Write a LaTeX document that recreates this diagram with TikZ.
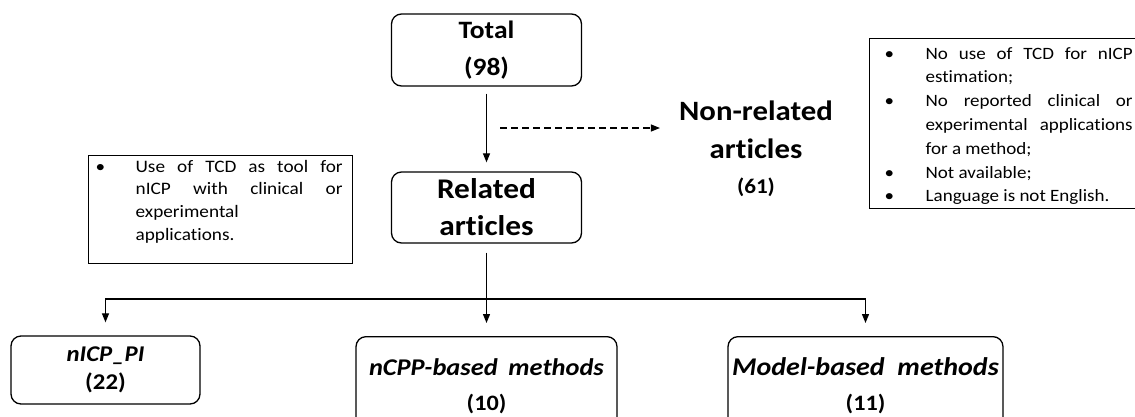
\documentclass[tikz,border=0pt]{standalone}
\usepackage{fontspec}
\setmainfont{Carlito}[FakeStretch=1.1, Ligatures=NoCommon]
\usetikzlibrary{arrows.meta}
\newcommand{\bitem}[2]{\par\noindent\hangindent=#1\hangafter=1\makebox[#1][l]{\textbullet}#2}
\tikzset{
  box/.style={draw, rounded corners=10pt, line width=1.3pt, inner sep=0pt, align=center},
  critbox/.style={draw, line width=1.3pt, inner sep=0pt},
  tip/.style={-{Triangle[length=9pt,width=7pt]}},
  conn/.style={line width=1.2pt},
}
\begin{document}
\begin{tikzpicture}[x=1pt,y=-1pt]
\useasboundingbox (0,0) rectangle (1135,416);
\clip (0,0) rectangle (1135,416);

% main boxes
\node[box, minimum width=190pt, minimum height=72pt,
      font=\bfseries\fontsize{25}{37}\selectfont] (total) at (486.5,50) {Total\\(98)};
\node[box, minimum width=190pt, minimum height=71pt,
      font=\bfseries\fontsize{28.5}{37}\selectfont] (related) at (486.5,207.5) {Related\\articles};
\node[inner sep=0pt, align=center,
      font=\bfseries\fontsize{28}{38}\selectfont] (nonrel) at (756,149) {Non-related\\articles\\[-3pt]{\fontsize{21}{21}\selectfont(61)}};

% criteria boxes
\node[critbox, anchor=north west, minimum width=264pt, minimum height=108pt,
      font=\fontsize{17.5}{22.7}\selectfont] (incl) at (88,155)
  {\hspace{-3pt}\parbox[c]{247pt}{\bitem{40pt}{Use of TCD as tool for\linebreak nICP with clinical or\linebreak experimental\newline applications.}\vspace{16pt}}\hspace{20pt}};
\node[critbox, anchor=north west, minimum width=280pt, minimum height=170pt,
      font=\fontsize{17.3}{23.8}\selectfont] (excl) at (869,38)
  {\hspace{-2pt}\parbox[c]{248pt}{\vspace{5pt}\bitem{41pt}{No use of TCD for nICP\linebreak estimation;}\bitem{41pt}{No reported clinical or\linebreak experimental applications\linebreak for a method;}\bitem{41pt}{Not available;}\bitem{41pt}{Language is not English.}}\hspace{34pt}};

% bottom boxes
\node[box, minimum width=189pt, minimum height=68pt,
      font=\bfseries\fontsize{22.5}{28}\selectfont] (pi) at (105.5,370) {\textit{nICP\_PI}\\(22)};
\node[box, anchor=north, minimum width=261pt, minimum height=99pt,
      font=\bfseries\fontsize{24}{35}\selectfont] (ncpp) at (486.5,336) {\textit{nCPP-based\hspace{0.45em}methods}\\{\fontsize{22}{35}\selectfont(10)}};
\node[box, anchor=north, minimum width=275pt, minimum height=99pt,
      font=\bfseries\fontsize{25.5}{35}\selectfont] (model) at (865.5,336) {\textit{Model-based\hspace{0.5em}methods}\\{\fontsize{22}{35}\selectfont(11)}};

% connectors
\draw[conn, tip, shorten <=7pt, shorten >=9pt] (total) -- (related);
\coordinate (dstart) at (500,128);
\draw[conn, tip, dash pattern=on 7pt off 4pt] (dstart) -- ([xshift=-19pt]dstart -| nonrel.west);
\draw[conn, tip, shorten <=9pt, shorten >=13pt] (related.south) -- (ncpp.north);
\coordinate (bus) at (486.5,299);
\draw[conn, {Triangle[length=9pt,width=7pt]}-{Triangle[length=9pt,width=7pt]},
      shorten <=13pt, shorten >=13pt] (pi.north) |- (bus) -| (model.north);
\end{tikzpicture}
\end{document}
